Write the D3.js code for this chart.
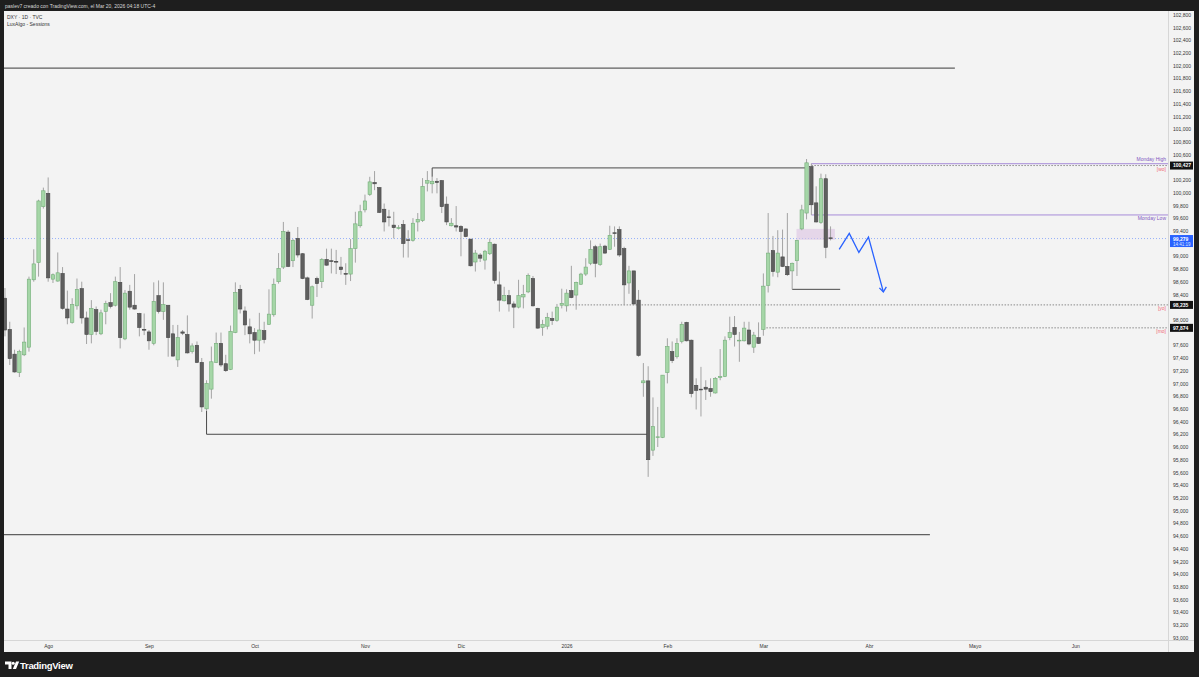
<!DOCTYPE html>
<html>
<head>
<meta charset="utf-8">
<script src="https://cdn.jsdelivr.net/npm/d3@7"></script>
<style>
body{margin:0;background:#1e1e1e;overflow:hidden}
text{font-family:"Liberation Sans","DejaVu Sans",sans-serif}
</style>
</head>
<body>
<div id="chart"></div>
<script>
var width = 1199, height = 677;
var plot = {left: 4, right: 1168, top: 11, bottom: 640};

// DXY daily candles, 21 Jul 2025 .. 20 Mar 2026
var opens = [98.34,97.85,97.46,97.17,97.45,97.57,98.63,98.90,99.78,99.99,
98.64,98.61,98.73,98.17,97.96,98.22,98.49,98.03,97.77,98.16,
97.78,98.13,98.27,98.23,98.59,97.70,98.45,98.23,98.10,97.85,
97.81,97.63,98.38,98.13,98.23,97.78,97.37,97.81,97.77,97.50,
97.60,97.33,96.60,96.91,97.33,97.63,97.31,97.22,97.80,98.48,
98.14,97.89,97.80,97.68,97.83,97.93,98.08,98.60,98.83,99.38,
98.93,99.28,99.04,98.66,98.23,98.65,98.60,98.95,98.93,98.92,
98.83,98.73,98.72,99.12,99.48,99.73,99.97,100.16,100.08,99.74,
99.62,99.49,99.44,99.50,99.26,99.25,99.54,99.56,100.15,100.14,
100.18,100.19,99.82,99.48,99.48,99.47,99.43,99.27,98.91,99.02,
98.94,99.04,99.19,98.55,98.30,98.38,98.25,98.20,98.36,98.44,
98.65,98.18,97.88,97.90,98.02,97.99,98.23,98.22,98.46,98.39,
98.56,98.72,98.89,99.15,98.87,99.16,99.11,99.37,99.42,99.12,
98.58,98.77,98.31,97.01,97.04,95.95,96.15,96.15,97.17,97.50,
97.42,97.66,97.96,97.68,96.97,96.91,96.94,96.92,96.85,97.09,
97.11,97.72,97.88,97.68,97.67,97.84,97.57,97.72,97.85,98.54,
99.09,98.75,98.99,98.84,98.77,98.93,99.43,99.68,100.41,99.84,
99.53,100.22,99.29];
var highs = [98.50,97.97,97.53,97.53,97.88,98.68,99.11,99.89,100.08,100.24,
98.73,99.06,98.83,98.46,98.34,98.65,98.60,98.13,98.31,98.21,
98.16,98.30,98.42,98.68,98.83,98.47,98.55,98.72,98.11,98.10,
97.84,98.59,98.62,98.59,98.23,97.92,97.92,97.84,98.07,97.63,
97.66,97.40,97.05,97.58,97.80,97.80,97.45,97.91,98.59,98.55,
98.21,98.02,97.87,98.11,97.97,98.48,98.65,99.05,99.54,99.41,
99.27,99.46,99.05,98.68,98.54,98.68,98.97,99.12,99.12,99.10,
98.99,98.89,99.27,99.70,99.81,99.97,100.25,100.34,100.09,99.83,
99.73,99.70,99.49,99.57,99.41,99.60,99.68,100.23,100.34,100.25,
100.23,100.20,99.94,99.60,99.79,99.49,99.44,99.27,99.10,99.05,
99.10,99.28,99.20,98.76,98.52,98.47,98.29,98.63,98.55,98.73,
98.69,98.19,98.00,98.11,98.13,98.25,98.49,98.48,98.85,98.60,
98.74,98.97,99.25,99.18,99.20,99.18,99.48,99.47,99.47,99.15,
98.85,98.77,98.47,97.32,97.27,96.78,96.63,97.13,97.71,97.66,
97.71,97.97,97.97,97.69,97.08,97.26,97.05,97.08,97.10,97.54,
97.74,98.05,98.06,97.81,97.97,97.97,97.81,97.96,98.73,99.68,
99.32,99.41,99.42,99.68,98.90,99.26,99.81,100.53,100.46,100.10,
100.30,100.29,99.47];
var lows = [97.74,97.29,97.17,97.10,97.43,97.50,98.60,98.68,99.75,98.60,
98.58,98.60,98.16,97.93,97.94,98.16,97.94,97.62,97.63,97.76,
97.76,97.93,98.18,98.21,97.55,97.68,98.16,98.16,97.74,97.76,
97.53,97.60,98.10,98.00,97.42,97.42,97.26,97.76,97.47,97.47,
97.32,96.55,96.57,96.76,97.32,97.26,97.18,97.21,97.79,98.10,
97.76,97.63,97.46,97.50,97.63,97.92,98.05,98.57,98.80,98.83,
98.83,98.98,98.64,98.31,98.02,98.36,98.50,98.85,98.73,98.72,
98.71,98.55,98.61,98.90,99.45,99.69,99.95,100.04,99.68,99.39,
99.47,99.28,99.42,98.98,98.98,99.23,99.39,99.54,100.02,99.99,
99.99,99.68,99.49,99.47,99.39,99.00,99.30,98.84,98.76,98.91,
98.79,99.02,98.57,98.13,98.29,98.13,97.87,98.18,98.18,98.42,
98.21,97.86,97.75,97.85,97.92,97.97,98.18,98.13,98.34,98.16,
98.55,98.69,98.86,98.67,98.85,99.04,99.10,99.15,98.99,98.23,
98.41,98.23,97.42,96.79,95.53,95.86,96.00,96.14,97.00,97.32,
97.39,97.63,97.66,96.78,96.59,96.48,96.74,96.79,96.84,97.05,
97.10,97.68,97.58,97.34,97.66,97.60,97.48,97.62,97.75,98.43,
98.68,98.67,98.83,98.69,98.48,98.69,99.41,99.58,99.65,99.53,
99.51,98.97,99.25];
var closes = [97.84,97.39,97.18,97.50,97.65,98.64,98.88,99.87,100.03,98.66,
98.71,98.74,98.18,98.03,98.24,98.48,98.03,97.77,98.18,97.82,
98.11,98.26,98.21,98.60,97.72,98.42,98.20,98.17,97.88,97.84,
97.67,98.29,98.13,98.24,97.72,97.43,97.72,97.79,97.48,97.59,
97.33,96.63,97.00,97.34,97.63,97.29,97.20,97.82,98.43,98.17,
97.92,97.78,97.68,97.84,97.69,98.09,98.56,98.81,99.39,98.84,
99.25,99.02,98.65,98.32,98.52,98.57,98.95,98.86,98.92,98.91,
98.79,98.72,99.12,99.51,99.70,99.87,100.17,100.14,99.69,99.54,
99.61,99.45,99.45,99.20,99.25,99.52,99.58,100.10,100.19,100.18,
100.16,99.78,99.54,99.52,99.46,99.39,99.31,98.85,99.05,98.97,
99.08,99.22,98.62,98.31,98.38,98.25,98.20,98.38,98.40,98.70,
98.22,97.87,97.93,98.04,97.99,98.20,98.26,98.42,98.35,98.59,
98.72,98.83,99.11,98.89,99.15,99.05,99.33,99.36,99.02,98.55,
98.77,98.25,97.44,97.04,95.80,96.32,96.16,97.13,97.58,97.36,
97.63,97.93,97.67,96.84,96.89,96.90,96.91,96.87,97.08,97.11,
97.68,97.80,97.77,97.68,97.87,97.62,97.76,97.63,98.53,99.05,
98.76,99.05,98.84,98.71,98.89,99.25,99.73,100.47,99.81,99.54,
100.22,99.14,99.279];

var firstDay = "2025-07-21";
var lastDay = "2026-06-30";
var holidays = ["2025-12-25", "2026-01-01"];
var monthNames = ["2026","Feb","Mar","Abr","Mayo","Jun","Jul","Ago","Sep","Oct","Nov","Dic"];

var lastPrice = 99.279;
var countdown = "14:41:19";
// [label, price, first candle, label above the line?]
var sessionLevels = [["Monday High", 100.456, 168, true], ["Monday Low", 99.65, 168, false]];
// [label, price, first candle]
var openLevels = [["[wo]", 100.427, 168], ["[yo]", 98.235, 117], ["[mo]", 97.874, 158]];
// [price, from candle, to candle]
var blackLines = [[101.96, -1, 197.9], [94.62, -1, 192.7]];
// [candle, extreme price, level, end candle]
var swingLines = [[89, 100.25, 100.39, 167], [42, 96.57, 96.20, 134], [164, 98.48, 98.48, 174]];
var zoneBox = [164.9, 172.9, 99.43, 99.26];
var forecast = [[173.8, 99.11], [175.9, 99.36], [177.9, 99.06], [179.9, 99.30], [183.0, 98.44]];

// trading calendar
var parse = d3.timeParse("%Y-%m-%d"), fmt = d3.timeFormat("%Y-%m-%d");
var dates = d3.timeDay.range(parse(firstDay), d3.timeDay.offset(parse(lastDay), 1))
  .filter(function(d){ return d.getDay() > 0 && d.getDay() < 6 && holidays.indexOf(fmt(d)) < 0; });
var monthTicks = [];
dates.forEach(function(d, i){
  if (i > 0 && d.getMonth() != dates[i-1].getMonth()) monthTicks.push({i: i, label: monthNames[d.getMonth()]});
});

var candles = opens.map(function(o, i){
  return {i: i, o: o, h: highs[i], l: lows[i], c: closes[i]};
});

var svg = d3.select("#chart").append("svg")
  .attr("width", width).attr("height", height);

svg.append("rect").attr("width", width).attr("height", height).attr("fill", "#1e1e1e");
svg.append("rect").attr("x", plot.left).attr("y", plot.top)
  .attr("width", 1194 - plot.left).attr("height", 652 - plot.top).attr("fill", "#f3f3f3");

var x = d3.scaleLinear().domain([-0.2, 242.3]).range([plot.left, plot.right]);
var y = d3.scaleLinear().domain([93.0, 102.8]).range([637.7, 14.7]);

svg.append("clipPath").attr("id", "clip").append("rect")
  .attr("x", plot.left).attr("y", plot.top)
  .attr("width", plot.right - plot.left).attr("height", plot.bottom - plot.top);

// separators
svg.append("line").attr("x1", plot.right + 0.5).attr("x2", plot.right + 0.5)
  .attr("y1", plot.top).attr("y2", 652).attr("stroke", "#d6d6d6");
svg.append("line").attr("x1", plot.left).attr("x2", 1194)
  .attr("y1", plot.bottom + 0.5).attr("y2", plot.bottom + 0.5).attr("stroke", "#d6d6d6");

var g = svg.append("g").attr("clip-path", "url(#clip)");

// black horizontal lines
g.selectAll(".hl").data(blackLines).enter().append("line")
  .attr("x1", function(d){ return x(d[1]); })
  .attr("x2", function(d){ return x(d[2]); })
  .attr("y1", function(d){ return y(d[0]); })
  .attr("y2", function(d){ return y(d[0]); })
  .attr("stroke", "#3a3a3a").attr("stroke-width", 1);

// swing lines
g.selectAll(".sw").data(swingLines).enter().append("path")
  .attr("fill", "none").attr("stroke", "#4a4a4a").attr("stroke-width", 1)
  .attr("d", function(d){
    return "M" + x(d[0]) + "," + y(d[1]) + "V" + y(d[2]) + "H" + x(d[3]);
  });

// last price line
g.append("line").attr("x1", plot.left).attr("x2", plot.right)
  .attr("y1", y(lastPrice)).attr("y2", y(lastPrice))
  .attr("stroke", "#2962ff").attr("stroke-opacity", 0.45)
  .attr("stroke-dasharray", "1,2");

// zone box
g.append("rect")
  .attr("x", x(zoneBox[0])).attr("width", x(zoneBox[1]) - x(zoneBox[0]))
  .attr("y", y(zoneBox[2])).attr("height", y(zoneBox[3]) - y(zoneBox[2]))
  .attr("fill", "#dcc3e3").attr("fill-opacity", 0.6);

// open levels (dotted)
g.selectAll(".ol").data(openLevels).enter().append("line")
  .attr("x1", function(d){ return x(d[2]); }).attr("x2", plot.right)
  .attr("y1", function(d){ return y(d[1]); }).attr("y2", function(d){ return y(d[1]); })
  .attr("stroke", "#8a8a8a").attr("stroke-dasharray", "1.5,1.5");

// session levels
g.selectAll(".sl").data(sessionLevels).enter().append("line")
  .attr("x1", function(d){ return x(d[2]); }).attr("x2", plot.right)
  .attr("y1", function(d){ return y(d[1]); }).attr("y2", function(d){ return y(d[1]); })
  .attr("stroke", "#a68bd8").attr("stroke-width", 1);

// candles
var bw = 3.4;
var cg = g.selectAll(".candle").data(candles).enter().append("g");
cg.append("line")
  .attr("x1", function(d){ return x(d.i); }).attr("x2", function(d){ return x(d.i); })
  .attr("y1", function(d){ return y(d.h); }).attr("y2", function(d){ return y(d.l); })
  .attr("stroke", "#a3a3a3").attr("stroke-width", 1);
cg.append("rect")
  .attr("x", function(d){ return x(d.i) - bw / 2; })
  .attr("width", bw)
  .attr("y", function(d){ return y(Math.max(d.o, d.c)); })
  .attr("height", function(d){ return Math.max(0.8, Math.abs(y(d.o) - y(d.c))); })
  .attr("fill", function(d){ return d.c >= d.o ? "#a5d6a7" : "#5f5f5f"; })
  .attr("stroke", function(d){ return d.c >= d.o ? "#74ad79" : "#474747"; })
  .attr("stroke-width", 0.6);

// forecast path
g.append("path").datum(forecast)
  .attr("fill", "none").attr("stroke", "#2962ff").attr("stroke-width", 1.3)
  .attr("d", d3.line().x(function(d){ return x(d[0]); }).y(function(d){ return y(d[1]); }));
var tip = forecast[forecast.length - 1];
g.append("path")
  .attr("fill", "none").attr("stroke", "#2962ff").attr("stroke-width", 1.3)
  .attr("d", "M" + (x(tip[0]) - 4) + "," + (y(tip[1]) - 4) + "L" + x(tip[0]) + "," + y(tip[1]) +
    "L" + (x(tip[0]) + 3) + "," + (y(tip[1]) - 5));

// level labels
svg.selectAll(".sll").data(sessionLevels).enter().append("text")
  .attr("x", plot.right - 2).attr("y", function(d){ return d[3] ? y(d[1]) - 3 : y(d[1]) + 5.5; })
  .attr("text-anchor", "end").attr("font-size", 5).attr("fill", "#7e57c2")
  .text(function(d){ return d[0]; });
svg.selectAll(".oll").data(openLevels).enter().append("text")
  .attr("x", plot.right - 2).attr("y", function(d){ return y(d[1]) + 5.5; })
  .attr("text-anchor", "end").attr("font-size", 5).attr("fill", "#f06a75")
  .text(function(d){ return d[0]; });

// price axis, hiding ticks covered by a tag
var tagPrices = openLevels.map(function(d){ return d[1]; }).concat([lastPrice]);
var locale = d3.formatLocale({decimal: ",", thousands: ".", grouping: [3], currency: ["", ""]});
var priceFmt = locale.format(".3f");
var yTicks = d3.range(0, 50).map(function(i){ return 93 + i * 0.2; })
  .filter(function(v){
    return tagPrices.every(function(p){ return Math.abs(y(v) - y(p)) > 6; });
  });
var yAxis = d3.axisRight(y).tickValues(yTicks)
  .tickSize(0).tickPadding(0).tickFormat(priceFmt);
var ya = svg.append("g").attr("transform", "translate(" + (plot.right + 5) + ",0)").call(yAxis);
ya.select(".domain").remove();
ya.selectAll("text").attr("font-size", 5).attr("fill", "#333").attr("font-family", "Liberation Sans, sans-serif");

// price tags
var tags = svg.selectAll(".tag").data(openLevels).enter().append("g");
tags.append("rect").attr("x", plot.right + 2).attr("width", 23)
  .attr("y", function(d){ return y(d[1]) - 4; }).attr("height", 8).attr("fill", "#131313");
tags.append("text").attr("x", plot.right + 5).attr("y", function(d){ return y(d[1]) + 1.8; })
  .attr("font-size", 5).attr("font-weight", "bold").attr("fill", "#fff")
  .text(function(d){ return priceFmt(d[1]); });

svg.append("rect").attr("x", plot.right + 2).attr("width", 23)
  .attr("y", y(lastPrice) - 3.5).attr("height", 12).attr("fill", "#2962ff");
svg.append("text").attr("x", plot.right + 5).attr("y", y(lastPrice) + 2.3)
  .attr("font-size", 5).attr("font-weight", "bold").attr("fill", "#fff").text(priceFmt(lastPrice));
svg.append("text").attr("x", plot.right + 5).attr("y", y(lastPrice) + 7)
  .attr("font-size", 4.5).attr("fill", "#dfe7ff").text(countdown);

// time axis
var xAxis = d3.axisBottom(x)
  .tickValues(monthTicks.map(function(d){ return d.i; }))
  .tickSize(0).tickPadding(0)
  .tickFormat(function(v){ return monthTicks.filter(function(m){ return m.i == v; })[0].label; });
var xa = svg.append("g").attr("transform", "translate(0," + (plot.bottom + 4) + ")").call(xAxis);
xa.select(".domain").remove();
xa.selectAll("text").attr("font-size", 5).attr("fill", "#333").attr("font-family", "Liberation Sans, sans-serif");

// header and legend
svg.append("text").attr("x", 5).attr("y", 7.5).attr("font-size", 5).attr("fill", "#d8d8d8")
  .text("paslev7 creado con TradingView.com, el Mar 20, 2026 04:18 UTC-4");
svg.append("text").attr("x", 7).attr("y", 18.5).attr("font-size", 5).attr("fill", "#333")
  .text("DXY · 1D · TVC");
svg.append("text").attr("x", 7).attr("y", 25.5).attr("font-size", 5).attr("fill", "#333")
  .text("LuxAlgo - Sessions");

// footer logo
var logo = svg.append("g").attr("fill", "#fff");
logo.append("path").attr("d", "M5,661.5h6.5v7.5h-3v-4.6h-3.5z");
logo.append("circle").attr("cx", 13.2).attr("cy", 663.2).attr("r", 1.5);
logo.append("path").attr("d", "M12.8,669l3.2-7.5h3.2l-3.2,7.5z");
svg.append("text").attr("x", 20).attr("y", 668.8).attr("font-size", 9.5)
  .attr("font-weight", "bold").attr("fill", "#fff").attr("letter-spacing", -0.3)
  .text("TradingView");
</script>
</body>
</html>
